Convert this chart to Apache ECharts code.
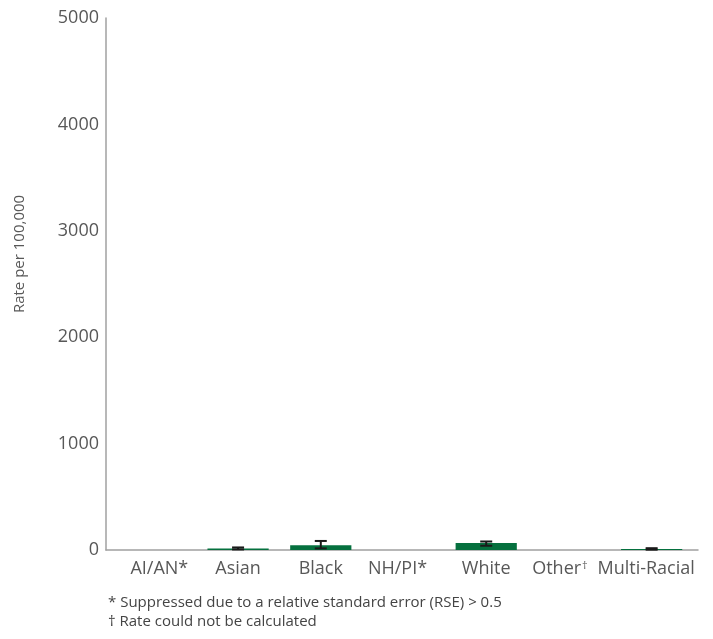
<!DOCTYPE html>
<html><head><meta charset="utf-8">
<script src="https://cdn.jsdelivr.net/npm/echarts@6/dist/echarts.min.js"></script>
<style>html,body{margin:0;padding:0;background:#fff}#c{width:713px;height:639px}</style>
</head><body><div id="c"></div>
<script>
var categories = ['AI/AN*', 'Asian', 'Black', 'NH/PI*', 'White', 'Other†', 'Multi-Racial'];
var rates = [null, 15, 45, null, 65, null, 10];
var ciLower = [null, 5, 15, null, 40, null, 3];
var ciUpper = [null, 24, 85, null, 80, null, 17];
var yTicks = [0, 1000, 2000, 3000, 4000, 5000];
var yTitle = 'Rate per 100,000';
var notes = ['* Suppressed due to a relative standard error (RSE) > 0.5', '† Rate could not be calculated'];

var FONT = '"Open Sans", sans-serif';
var TXT = '#585858';
var FS = 18;
var labelStyles = ['a', 'n', 'n', 'p', 'n', 'o', 'm'];

var chart = echarts.init(document.getElementById('c'));
var errData = categories.map(function (c, i) { return [i, ciLower[i], ciUpper[i]]; })
  .filter(function (d) { return d[1] != null; });

function rs(extra) {
  var o = { fontSize: FS, color: TXT, fontFamily: FONT };
  for (var k in extra) o[k] = extra[k];
  return o;
}

chart.setOption({
  animation: false,
  grid: [
    { left: 106, right: 15, top: 18, bottom: 89 },
    { left: 114, right: 20, top: 18, bottom: 89 }
  ],
  xAxis: [
    { gridIndex: 0, type: 'value', min: 0, max: 1, show: true,
      axisLine: { show: true, lineStyle: { color: '#a0a0a0', width: 1.5 } },
      axisTick: { show: false }, axisLabel: { show: false }, splitLine: { show: false } },
    { gridIndex: 1, type: 'category', data: categories,
      axisLine: { show: false }, axisTick: { show: false },
      axisLabel: {
        interval: 0, margin: 10, color: TXT, fontFamily: FONT, fontSize: FS,
        formatter: function (v, i) {
          var s = labelStyles[i];
          if (v.indexOf('†') >= 0) {
            return '{' + s + '|' + v.replace('†', '') + '}{' + s + 'd|†}';
          }
          return '{' + s + '|' + v + '}';
        },
        rich: {
          n: rs({}),
          a: rs({ padding: [0, 0, 0, 8] }),
          p: rs({ padding: [0, 12, 0, 0] }),
          o: rs({}),
          od: rs({ fontSize: 11, verticalAlign: 'top', padding: [0, 18, 0, 1] }),
          m: rs({ padding: [0, 11, 0, 0] })
        }
      } }
  ],
  yAxis: [
    { gridIndex: 0, type: 'value', min: yTicks[0], max: yTicks[yTicks.length - 1], interval: 1000,
      axisLine: { show: true, lineStyle: { color: '#a0a0a0', width: 1.5 } },
      axisTick: { show: false }, splitLine: { show: false },
      axisLabel: { color: TXT, fontFamily: FONT, fontSize: FS, margin: 7,
        formatter: function (v) { return String(v); } } },
    { gridIndex: 1, type: 'value', min: yTicks[0], max: yTicks[yTicks.length - 1], show: false }
  ],
  graphic: [
    { type: 'text', x: 20, y: 254, rotation: Math.PI / 2,
      style: { text: yTitle, fill: TXT, font: '15px ' + FONT, textAlign: 'center', textVerticalAlign: 'middle' } },
    { type: 'text', x: 108, y: 603,
      style: { text: notes[0], fill: '#444', font: '15px ' + FONT, textVerticalAlign: 'middle' } },
    { type: 'text', x: 108, y: 622,
      style: { text: notes[1], fill: '#444', font: '15px ' + FONT, textVerticalAlign: 'middle' } }
  ],
  series: [
    { type: 'bar', xAxisIndex: 1, yAxisIndex: 1, data: rates, barWidth: '74%',
      itemStyle: { color: '#05703e' } },
    { type: 'custom', xAxisIndex: 1, yAxisIndex: 1, data: errData, z: 5,
      renderItem: function (params, api) {
        var x = api.value(0);
        var lo = api.coord([x, api.value(1)]);
        var hi = api.coord([x, api.value(2)]);
        var hw = 6;
        var st = { stroke: '#1a1a1a', lineWidth: 2 };
        return { type: 'group', children: [
          { type: 'line', shape: { x1: lo[0], y1: lo[1], x2: hi[0], y2: hi[1] }, style: st },
          { type: 'line', shape: { x1: lo[0] - hw, y1: lo[1], x2: lo[0] + hw, y2: lo[1] }, style: st },
          { type: 'line', shape: { x1: hi[0] - hw, y1: hi[1], x2: hi[0] + hw, y2: hi[1] }, style: st }
        ] };
      } }
  ]
});
</script></body></html>
